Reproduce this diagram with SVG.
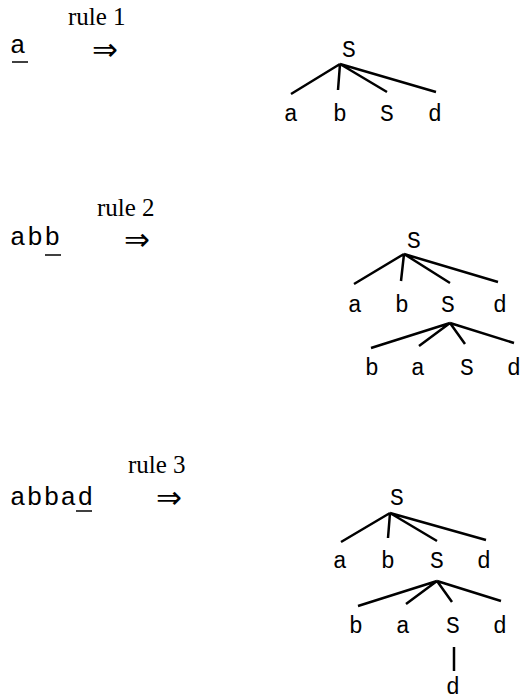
<svg xmlns="http://www.w3.org/2000/svg" width="523" height="700" viewBox="0 0 523 700">
<style>
.m{font-family:'Liberation Mono','DejaVu Sans Mono','Courier New',monospace;font-size:23px;fill:#000}
.l{font-family:'Liberation Mono','DejaVu Sans Mono','Courier New',monospace;font-size:26px;fill:#000}
.t{text-anchor:middle}
.r{font-family:'Liberation Serif','Times New Roman',serif;font-size:25px;fill:#000}
.ar{font-family:'DejaVu Sans','Liberation Serif',serif;font-size:31px;fill:#000}
.e{stroke:#000;stroke-width:2.5;fill:none;stroke-linecap:butt}
.u{stroke:#000;stroke-width:1.5}
</style>
<rect width="523" height="700" fill="#fff"/>
<g id="row1">
<text class="r" x="68" y="25">rule 1</text>
<text class="l" x="10" y="53">a</text>
<line class="u" x1="12" y1="62" x2="28" y2="62"/>
<text class="ar" x="92" y="60">⇒</text>
</g>
<g id="row2">
<text class="r" x="97" y="216">rule 2</text>
<text class="l" x="10" y="245" textLength="50" lengthAdjust="spacing">abb</text>
<line class="u" x1="45" y1="255" x2="61" y2="255"/>
<text class="ar" x="124" y="250">⇒</text>
</g>
<g id="row3">
<text class="r" x="128" y="473">rule 3</text>
<text class="l" x="10" y="505" textLength="83" lengthAdjust="spacing">abbad</text>
<line class="u" x1="76" y1="511" x2="92" y2="511"/>
<text class="ar" x="156" y="508">⇒</text>
</g>
<g id="tree1">
<text class="m t" x="349" y="57">S</text>
<text class="m t" x="291" y="121">a</text>
<text class="m t" x="340" y="121">b</text>
<text class="m t" x="387" y="121">S</text>
<text class="m t" x="435" y="121">d</text>
</g>
<g id="tree2">
<text class="m t" x="414" y="248">S</text>
<text class="m t" x="355" y="312">a</text>
<text class="m t" x="402" y="312">b</text>
<text class="m t" x="448" y="312">S</text>
<text class="m t" x="500" y="312">d</text>
<text class="m t" x="372" y="375">b</text>
<text class="m t" x="418" y="375">a</text>
<text class="m t" x="467" y="375">S</text>
<text class="m t" x="514" y="375">d</text>
</g>
<g id="tree3">
<text class="m t" x="397" y="505">S</text>
<text class="m t" x="340" y="568">a</text>
<text class="m t" x="388" y="568">b</text>
<text class="m t" x="437" y="568">S</text>
<text class="m t" x="484" y="568">d</text>
<text class="m t" x="356" y="633">b</text>
<text class="m t" x="403" y="633">a</text>
<text class="m t" x="453" y="633">S</text>
<text class="m t" x="500" y="633">d</text>
<text class="m t" x="453" y="694">d</text>
</g>
<g id="connectors">
<path class="e" d="M340 64L291 94M340 64L338 90M340 64L387 92M340 64L436 92"/>
<path class="e" d="M404 254L354 284M404 254L401 281M404 254L450 283M404 254L498 282"/>
<path class="e" d="M450 323L371 348M450 323L419 346M450 323L465 344M450 323L514 343"/>
<path class="e" d="M390 513L341 542M390 513L388 538M390 513L437 541M390 513L486 540"/>
<path class="e" d="M437 581L358 606M437 581L406 604M437 581L452 602M437 581L501 601"/>
<path class="e" d="M454 647L454 671"/>
</g>
</svg>
